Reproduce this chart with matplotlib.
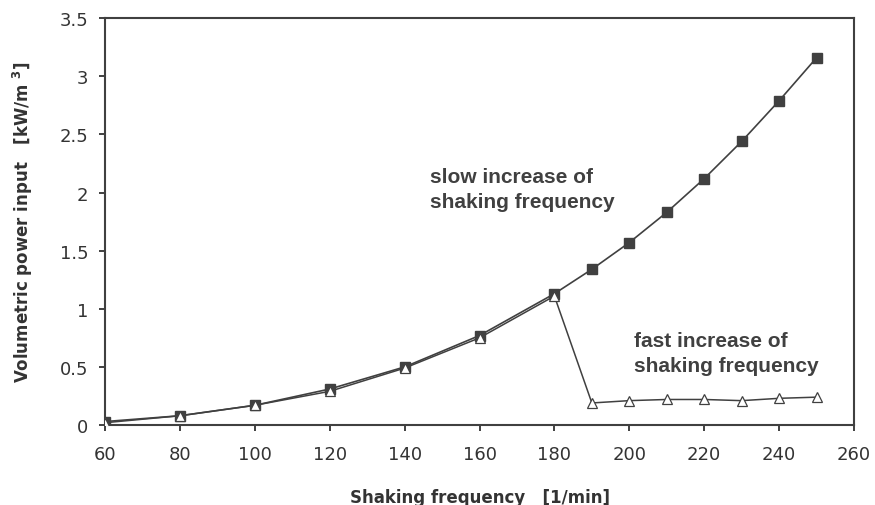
import matplotlib
matplotlib.use('Agg')
import matplotlib.pyplot as plt
import numpy as np

plt.rcParams['font.family'] = ['DejaVu Sans']
plt.rcParams['mathtext.fontset'] = 'custom'
plt.rcParams['mathtext.rm'] = 'DejaVu Sans'

grey = '#404040'

# slow increase of shaking frequency (filled squares)
freq_slow = [60, 80, 100, 120, 140, 160, 180, 190, 200, 210, 220, 230, 240, 250]
power_slow = [0.03, 0.08, 0.17, 0.31, 0.50, 0.77, 1.13, 1.34, 1.57, 1.83, 2.12, 2.44, 2.79, 3.16]

# fast increase of shaking frequency (open triangles)
freq_fast = [60, 80, 100, 120, 140, 160, 180, 190, 200, 210, 220, 230, 240, 250]
power_fast = [0.02, 0.08, 0.17, 0.29, 0.49, 0.75, 1.11, 0.19, 0.21, 0.22, 0.22, 0.21, 0.23, 0.24]

xticks = [60, 80, 100, 120, 140, 160, 180, 200, 220, 240, 260]
yticks = [0, 0.5, 1, 1.5, 2, 2.5, 3, 3.5]
ytick_labels = ['0', '0.5', '1', '1.5', '2', '2.5', '3', '3.5']

fig = plt.figure(figsize=(8.75, 5.06), dpi=100)
ax = fig.add_axes([0.12, 0.158, 0.856, 0.804])

ax.plot(freq_slow, power_slow, color=grey, lw=1.2, marker='s', ms=6.5,
        mfc=grey, mec=grey, zorder=3)
ax.plot(freq_fast, power_fast, color=grey, lw=1.1, marker='^', ms=7,
        mfc='white', mec=grey, mew=0.9, zorder=4)

ax.set_xlim(60, 260)
ax.set_ylim(0, 3.5)
ax.set_xticks(xticks)
ax.set_yticks(yticks)
ax.set_yticklabels(ytick_labels)
ax.tick_params(direction='out', length=4.3, width=1.4, color=grey,
               labelcolor='#333333', labelsize=13)
ax.tick_params(axis='x', pad=10)
ax.tick_params(axis='y', pad=7.5)
for s in ax.spines.values():
    s.set_color(grey)
    s.set_linewidth(1.5)

ax.set_xlabel('Shaking frequency   [1/min]', fontsize=12, fontweight='bold', color='#333333')
ax.xaxis.set_label_coords(0.5, -0.155)
ax.set_ylabel(r'Volumetric power input   [kW/m $\mathregular{^{3}}$]', fontsize=12,
              fontweight='bold', color='#333333')
ax.yaxis.set_label_coords(-0.093, 0.5)

ax.text(146.8, 2.03, 'slow increase of\nshaking frequency', fontsize=15, fontweight='bold',
        family='Liberation Sans', color='#404040', ha='left', va='center', linespacing=1.35)
ax.text(201.3, 0.62, 'fast increase of\nshaking frequency', fontsize=15, fontweight='bold',
        family='Liberation Sans', color='#404040', ha='left', va='center', linespacing=1.35)

fig.savefig('out.png', dpi=100)
